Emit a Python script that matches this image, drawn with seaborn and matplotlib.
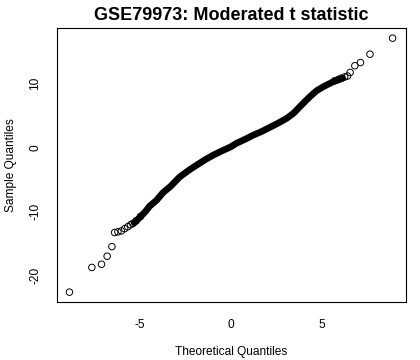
import matplotlib
matplotlib.use("Agg")
import matplotlib.pyplot as plt
import seaborn as sns
import pandas as pd

# Dense central band of the QQ plot (theoretical, sample)
band_theoretical = [-5.30, -5.15, -4.91, -4.67, -4.45, -4.08, -3.72, -3.30, -2.80, -2.30,
                    -1.88, -1.40, -0.97, -0.50, 0.00, 0.31, 0.80, 1.23, 1.70, 2.14,
                    2.60, 3.06, 3.45, 3.79, 4.10, 4.34, 4.71, 5.00, 5.26, 5.62, 5.99, 6.15]
band_sample = [-11.8, -11.4, -10.7, -10.0, -9.2, -8.3, -7.1, -6.1, -4.64, -3.60,
               -2.81, -1.95, -1.25, -0.60, 0.05, 0.60, 1.25, 1.87, 2.45, 3.08,
               3.75, 4.48, 5.30, 6.30, 7.20, 7.86, 8.80, 9.30, 9.69, 10.20, 10.60, 10.75]

# Individually visible points in the tails
tail_theoretical = [-8.85, -7.62, -7.09, -6.78, -6.52, -6.37, -6.19, -6.00, -5.82, -5.65,
                    -5.50, -5.37, -5.20, -4.95,
                    5.70, 5.90, 6.05, 6.25, 6.41, 6.55, 6.81, 7.12, 7.64, 8.88]
tail_sample = [-22.6, -18.75, -18.25, -17.0, -15.5, -13.3, -13.2, -13.05, -12.7, -12.4,
               -12.1, -11.9, -11.5, -10.8,
               10.35, 10.55, 10.75, 10.95, 11.1, 11.65, 12.7, 13.2, 14.5, 17.0]

title = "GSE79973: Moderated t statistic"
xlabel = "Theoretical Quantiles"
ylabel = "Sample Quantiles"
xticks = [-5, 0, 5]
yticks = [-20, -10, 0, 10]

band = pd.DataFrame({"x": band_theoretical, "y": band_sample})
tails = pd.DataFrame({"x": tail_theoretical, "y": tail_sample})

sns.set_style("white")
plt.rcParams["font.family"] = ["Liberation Sans", "DejaVu Sans"]
plt.rcParams["text.color"] = "black"
plt.rcParams["axes.labelcolor"] = "black"
plt.rcParams["xtick.color"] = "black"
plt.rcParams["ytick.color"] = "black"

fig = plt.figure(figsize=(4.2, 3.6), dpi=100)
ax = fig.add_axes([56.5 / 420, 57.7 / 360, 349 / 420, 274.3 / 360])

sns.lineplot(data=band, x="x", y="y", sort=False, ax=ax, color="black",
             linewidth=4.8, solid_capstyle="round", solid_joinstyle="round")
sns.scatterplot(data=tails, x="x", y="y", ax=ax, marker="o", s=22,
                facecolor="none", edgecolor="black", linewidth=0.7)

allx = band_theoretical + tail_theoretical
ally = band_sample + tail_sample
px = (max(allx) - min(allx)) * 0.04
py = (max(ally) - min(ally)) * 0.04
ax.set_xlim(min(allx) - px, max(allx) + px)
ax.set_ylim(min(ally) - py, max(ally) + py)

ax.set_xticks(xticks)
ax.set_yticks(yticks)
ax.set_xticklabels([str(t) for t in xticks])
ax.set_yticklabels([str(t) for t in yticks], rotation=90, va="center")
ax.tick_params(axis="both", direction="out", length=7, width=0.8, color="#555555",
               labelcolor="black", labelsize=8.6)
ax.tick_params(axis="x", pad=5)
ax.tick_params(axis="y", pad=4)
for s in ax.spines.values():
    s.set_color("black")
    s.set_linewidth(0.8)

ax.set_xlabel("")
ax.set_ylabel("")
fig.text(231 / 420, 1 - 352.5 / 360, xlabel, ha="center", va="center", fontsize=8.6,
         color="black")
fig.text(11 / 420, 1 - 165 / 360, ylabel, ha="center", va="center", fontsize=8.6,
         rotation=90, color="black")
fig.text(231 / 420, 1 - 15.5 / 360, title, ha="center", va="center",
         fontsize=13, fontweight="bold", color="black")

fig.savefig("out.png", dpi=100)
